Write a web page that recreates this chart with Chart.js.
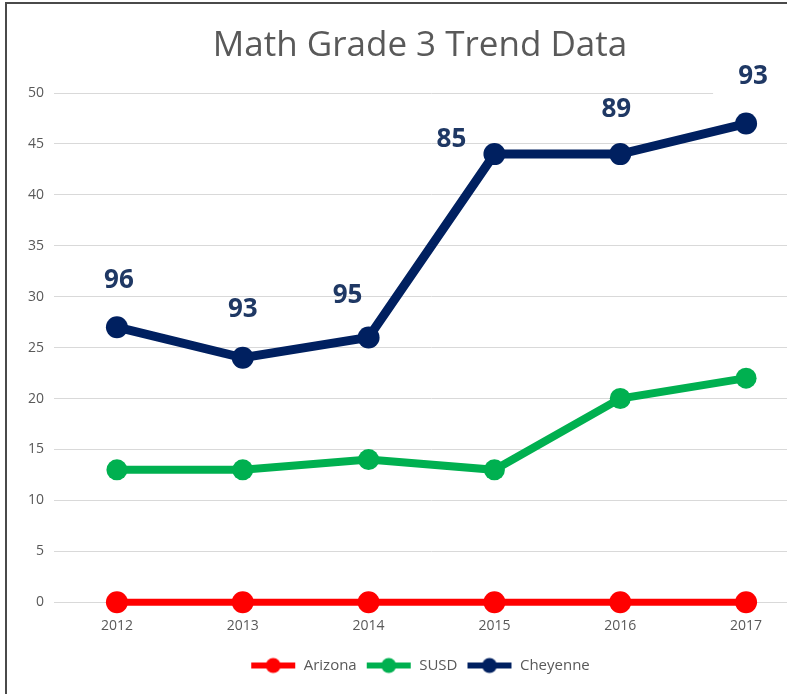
<!DOCTYPE html>
<html>
<head>
<meta charset="utf-8">
<script src="https://cdn.jsdelivr.net/npm/chart.js@4"></script>
<style>
  html, body { margin: 0; padding: 0; background: #fff; overflow: hidden; }
  #wrap { position: absolute; left: 0; top: 0; width: 840px; height: 694px; }
  #cadre { position: absolute; left: 5px; top: 2px; width: 800px; height: 720px;
           border-top: 2px solid #4a4a4a; border-left: 2px solid #4a4a4a; pointer-events: none; }
</style>
</head>
<body>
<div id="wrap"><canvas id="graph" width="840" height="694"></canvas></div>
<div id="cadre"></div>
<script>
// données
const annees = ["2012", "2013", "2014", "2015", "2016", "2017"];
const arizona = [0, 0, 0, 0, 0, 0];
const susd = [13, 13, 14, 13, 20, 22];
const cheyenne = [27, 24, 26, 44, 44, 47];
const etiquettesCheyenne = ["96", "93", "95", "85", "89", "93"];
const ticksY = [0, 5, 10, 15, 20, 25, 30, 35, 40, 45, 50];

const police = "'Open Sans', sans-serif";

// petit symbole ligne + rond pour la légende
function symbole(couleur) {
  const c = document.createElement('canvas');
  c.width = 46; c.height = 18;
  const x = c.getContext('2d');
  x.strokeStyle = couleur; x.lineWidth = 6;
  x.beginPath(); x.moveTo(1, 9); x.lineTo(45, 9); x.stroke();
  x.fillStyle = couleur;
  x.beginPath(); x.arc(23, 9, 7.5, 0, Math.PI * 2); x.fill();
  return c;
}

// étiquettes au-dessus des points Cheyenne
const decalages = [[2, -48], [0, -49], [-21, -43], [-43, -16], [-4, -46], [7, -48]];
const pluginEtiquettes = {
  id: 'etiquettes',
  afterDatasetsDraw(chart) {
    const ctx = chart.ctx;
    const meta = chart.getDatasetMeta(2);
    ctx.save();
    ctx.font = "bold 26px 'Open Sans', sans-serif";
    ctx.textAlign = 'center';
    ctx.textBaseline = 'middle';
    meta.data.forEach((pt, i) => {
      const cx = pt.x + decalages[i][0];
      const cy = pt.y + decalages[i][1];
      if (i === meta.data.length - 1) {
        ctx.fillStyle = '#fff';
        ctx.fillRect(cx - 40, cy - 20, 82, 40);
      }
      ctx.fillStyle = '#1f3864';
      ctx.fillText(etiquettesCheyenne[i], cx, cy + 1);
    });
    ctx.restore();
  }
};

const ctx = document.getElementById('graph').getContext('2d');

new Chart(ctx, {
  type: 'line',
  data: {
    labels: annees,
    datasets: [
      { label: 'Arizona', data: arizona, borderColor: '#ff0000', backgroundColor: '#ff0000', clip: false,
        borderWidth: 7, pointRadius: 11, pointBackgroundColor: '#ff0000', pointBorderWidth: 0 },
      { label: 'SUSD', data: susd, borderColor: '#00b050', backgroundColor: '#00b050', clip: false,
        borderWidth: 8, pointRadius: 10.5, pointBackgroundColor: '#00b050', pointBorderWidth: 0 },
      { label: 'Cheyenne', data: cheyenne, borderColor: '#002060', backgroundColor: '#002060', clip: false,
        borderWidth: 9, pointRadius: 11, pointBackgroundColor: '#002060', pointBorderWidth: 0 }
    ]
  },
  options: {
    responsive: false,
    animation: false,
    layout: { padding: { left: 0, right: 0, top: 0, bottom: 11 } },
    plugins: {
      title: {
        display: true,
        text: 'Math Grade 3 Trend Data',
        color: '#595959',
        font: { family: police, size: 35, weight: 'normal' },
        padding: { top: 25, bottom: 26 }
      },
      legend: {
        position: 'bottom',
        labels: {
          usePointStyle: true,
          pointStyleWidth: 46,
          color: '#595959',
          font: { family: police, size: 15 },
          padding: 9,
          generateLabels(chart) {
            return chart.data.datasets.map((d, i) => ({
              text: d.label,
              pointStyle: symbole(d.borderColor),
              fillStyle: d.borderColor,
              strokeStyle: d.borderColor,
              lineWidth: 0,
              hidden: false,
              datasetIndex: i,
              fontColor: '#595959'
            }));
          }
        }
      },
      tooltip: { enabled: false }
    },
    scales: {
      x: {
        offset: true,
        grid: { display: false, drawTicks: false },
        border: { display: false },
        ticks: { color: '#595959', font: { family: police, size: 14 }, padding: 15 }
      },
      y: {
        min: 0,
        max: 50,
        afterBuildTicks(scale) { scale.ticks = ticksY.map(v => ({ value: v })); },
        afterFit(scale) { scale.width = 54; },
        grid: { color: '#d9d9d9', lineWidth: 1, drawTicks: false },
        border: { display: false },
        ticks: { color: '#595959', font: { family: police, size: 14 }, padding: 10 }
      },
      // axe vide à droite pour garder le titre centré comme dans Excel
      y2: {
        position: 'right',
        min: 0,
        max: 50,
        afterFit(scale) { scale.width = 31; },
        grid: { display: false, drawTicks: false },
        border: { display: false },
        ticks: { display: false }
      }
    }
  },
  plugins: [pluginEtiquettes]
});
</script>
</body>
</html>
